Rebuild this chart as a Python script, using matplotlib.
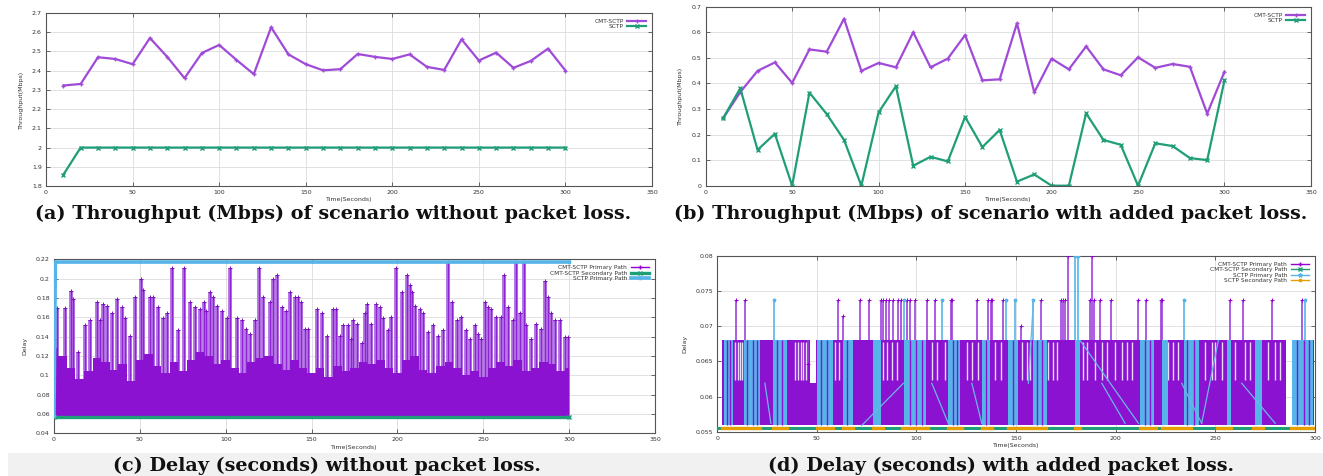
import matplotlib
matplotlib.use("Agg")
import matplotlib.pyplot as plt
from matplotlib.patches import Rectangle

# ---- (a) throughput, no packet loss ----
time_a = [10, 20, 30, 40, 50, 60, 70, 80, 90, 100, 110, 120, 130, 140, 150,
          160, 170, 180, 190, 200, 210, 220, 230, 240, 250, 260, 270, 280, 290, 300]
cmt_a = [2.323, 2.331, 2.470, 2.461, 2.434, 2.570, 2.472, 2.361, 2.492, 2.534,
         2.456, 2.382, 2.626, 2.485, 2.434, 2.402, 2.408, 2.487, 2.472, 2.461,
         2.485, 2.420, 2.404, 2.563, 2.453, 2.494, 2.415, 2.451, 2.515, 2.401]
sctp_a = [1.859, 2.0, 2.0, 2.0, 2.0, 2.0, 2.0, 2.0, 2.0, 2.0, 2.0, 2.0, 2.0, 2.0, 2.0,
          2.0, 2.0, 2.0, 2.0, 2.0, 2.0, 2.0, 2.0, 2.0, 2.0, 2.0, 2.0, 2.0, 2.0, 2.0]

# ---- (b) throughput, added packet loss ----
time_b = time_a
cmt_b = [0.263, 0.366, 0.449, 0.482, 0.402, 0.533, 0.524, 0.653, 0.449, 0.480,
         0.463, 0.600, 0.463, 0.497, 0.589, 0.412, 0.416, 0.635, 0.365, 0.497,
         0.455, 0.545, 0.455, 0.432, 0.502, 0.461, 0.476, 0.465, 0.282, 0.446]
sctp_b = [0.263, 0.381, 0.140, 0.203, 0.0, 0.364, 0.280, 0.179, 0.0, 0.287,
          0.389, 0.078, 0.113, 0.095, 0.269, 0.151, 0.218, 0.016, 0.044, 0.0,
          0.0, 0.283, 0.179, 0.160, 0.0, 0.166, 0.155, 0.108, 0.100, 0.412]

# ---- (c) delay, no packet loss ----
spike_t_c = [1.6, 6.4, 9.7, 11.3, 14.2, 17.8, 21.0, 24.8, 26.8, 28.7, 30.6, 33.6, 36.5,
             39.4, 41.3, 44.2, 47.1, 50.4, 52.0, 55.9, 57.8, 60.7, 63.6, 65.6, 68.5,
             72.4, 75.8, 79.1, 82.1, 85.0, 87.3, 88.8, 90.8, 92.7, 94.7, 97.6, 100.5,
             102.4, 106.3, 109.2, 112.1, 114.1, 117.0, 119.5, 121.8, 125.7, 127.3,
             129.6, 132.5, 135.4, 137.3, 140.3, 142.2, 144.1, 146.1, 148.0, 152.9,
             155.8, 158.7, 162.6, 164.5, 166.4, 168.4, 171.3, 173.2, 174.2, 176.2,
             179.1, 181.0, 182.0, 184.9, 187.8, 189.8, 191.7, 194.6, 196.5, 199.1,
             202.4, 205.3, 207.2, 208.2, 210.1, 213.0, 215.0, 217.9, 220.8, 223.7,
             226.6, 229.5, 231.5, 234.4, 237.3, 240.2, 242.1, 245.0, 247.0, 248.9,
             250.9, 252.8, 254.7, 257.6, 260.6, 261.9, 264.4, 267.4, 269.3, 271.2,
             273.6, 275.1, 278.0, 280.9, 283.8, 285.8, 287.7, 289.7, 291.6, 294.5,
             297.4, 299.4]
spike_d_c = [0.170, 0.170, 0.187, 0.179, 0.124, 0.152, 0.157, 0.176, 0.157, 0.174, 0.172,
             0.164, 0.179, 0.171, 0.159, 0.141, 0.181, 0.200, 0.188, 0.181, 0.181, 0.171,
             0.159, 0.164, 0.211, 0.147, 0.211, 0.176, 0.171, 0.169, 0.176, 0.167, 0.186,
             0.181, 0.172, 0.167, 0.159, 0.211, 0.159, 0.157, 0.148, 0.143, 0.157, 0.211,
             0.181, 0.176, 0.200, 0.204, 0.171, 0.167, 0.186, 0.181, 0.181, 0.176, 0.148,
             0.148, 0.169, 0.164, 0.141, 0.169, 0.169, 0.141, 0.152, 0.152, 0.138, 0.157,
             0.153, 0.133, 0.164, 0.174, 0.153, 0.174, 0.171, 0.159, 0.147, 0.160, 0.211,
             0.186, 0.204, 0.193, 0.186, 0.172, 0.169, 0.164, 0.145, 0.152, 0.141, 0.147,
             0.217, 0.176, 0.157, 0.160, 0.147, 0.138, 0.152, 0.143, 0.138, 0.176, 0.171,
             0.169, 0.160, 0.160, 0.204, 0.171, 0.157, 0.217, 0.164, 0.217, 0.152, 0.138,
             0.153, 0.148, 0.198, 0.181, 0.164, 0.157, 0.157, 0.140, 0.140]
# level below which the packet trace looks solid
dense_t_c = [0, 5, 10, 15, 20, 25, 30, 35, 40, 45, 50, 55, 60, 65, 70, 75, 80, 85, 90,
             95, 100, 105, 110, 115, 120, 125, 130, 135, 140, 145, 150, 155, 160, 165,
             170, 175, 180, 185, 190, 195, 200, 205, 210, 215, 220, 225, 230, 235, 240,
             245, 250, 255, 260, 265, 270, 275, 280, 285, 290, 295, 300]
dense_d_c = [0.128, 0.120, 0.108, 0.096, 0.104, 0.118, 0.114, 0.106, 0.112, 0.094,
             0.116, 0.122, 0.110, 0.102, 0.114, 0.104, 0.116, 0.124, 0.120, 0.112,
             0.116, 0.108, 0.102, 0.114, 0.118, 0.120, 0.112, 0.106, 0.116, 0.108,
             0.102, 0.108, 0.098, 0.110, 0.104, 0.108, 0.114, 0.112, 0.116, 0.108,
             0.102, 0.116, 0.120, 0.106, 0.102, 0.110, 0.114, 0.108, 0.100, 0.104,
             0.098, 0.108, 0.114, 0.110, 0.116, 0.104, 0.108, 0.114, 0.112, 0.104, 0.108]
floor_c = 0.0582
secondary_t_c = [0, 300]
secondary_d_c = [0.0567, 0.0567]
sctp_t_c = [0, 0.8, 300]
sctp_d_c = [0.0575, 0.2172, 0.2172]

# ---- (d) delay, added packet loss ----
floor_d = 0.0559
mid_d = 0.0619
top_d = 0.0680
cmt_blocks_d = [(2.5, 46.5), (46.5, 49.5), (49.5, 285.3), (288.3, 299.5)]
cmt_block_top_d = [top_d, mid_d, top_d, top_d]
sctp_blocks_d = [(3.6, 8.2), (13.5, 21.6), (28, 35), (50, 58), (63, 68), (78, 82),
                 (94, 105), (116, 122), (133, 137), (146, 151), (158.7, 165.4),
                 (179.6, 182), (212, 219), (223, 226), (234, 242), (255.7, 258),
                 (270, 273.5), (288.3, 299)]
streak_t_d = [9.0, 10.4, 11.5, 12.7, 39.1, 40.8, 42.1, 43.3, 44.5, 59.2, 61.2, 83.4,
              85.1, 87.6, 90.1, 107.7, 110.2, 114.4, 125.3, 127.8, 131.1, 139.5, 142.5,
              152.8, 155.4, 157.0, 166.2, 168.7, 170.4, 183.8, 185.5, 189.6, 193.3,
              195.5, 199.7, 203.0, 205.5, 208.0, 226.4, 228.9, 231.4, 244.8, 248.2,
              249.8, 253.2, 259.9, 264.9, 267.4, 276.6, 279.9, 282.4]
# purple packets crossing the SCTP blocks
cross_t_d = [5.0, 6.6, 15.2, 17.9, 19.8, 30.1, 32.6, 52.2, 55.0, 65.1, 97.0, 99.8,
             102.6, 118.5, 120.4, 135.0, 148.3, 160.4, 163.1, 214.5, 217.0, 236.0,
             239.2, 291.0, 294.2, 296.8]
cmt_spike_t_d = [9.4, 14.1, 45.8, 60.9, 63.0, 71.7, 76.3, 82.1, 83.4, 84.8, 86.3, 88.5,
                 90.6, 92.3, 95.2, 96.8, 99.3, 105.5, 109.4, 117.4, 118.1, 130.3, 136.1,
                 137.3, 138.1, 143.6, 152.5, 162.5, 172.6, 173.7, 174.6, 176.3, 187.1,
                 188.3, 189.1, 192.1, 197.5, 211.4, 215.1, 222.6, 223.4, 257.4, 263.7,
                 278.3, 293.6]
cmt_spike_d_d = [0.0737, 0.0737, 0.0647, 0.0737, 0.0715, 0.0737, 0.0737, 0.0737, 0.0737,
                 0.0737, 0.0737, 0.0737, 0.0737, 0.0737, 0.0737, 0.0737, 0.0737, 0.0737,
                 0.0737, 0.0737, 0.0737, 0.0737, 0.0737, 0.0737, 0.0737, 0.0737, 0.0700,
                 0.0737, 0.0737, 0.0737, 0.0737, 0.0800, 0.0737, 0.0800, 0.0737, 0.0737,
                 0.0737, 0.0737, 0.0737, 0.0737, 0.0737, 0.0737, 0.0737, 0.0737, 0.0737]
sctp_spike_t_d = [28.8, 94.0, 112.7, 144.8, 149.5, 158.7, 179.6, 181.3, 234.0, 295.0]
sctp_spike_d_d = [0.0737, 0.0737, 0.0737, 0.0737, 0.0737, 0.0737, 0.0800, 0.0800,
                  0.0737, 0.0737]
# diagonal jumps of the SCTP primary path: (t0, d0, t1, d1)
sctp_jumps_d = [(24, 0.0619, 27, 0.0562), (72.6, 0.0559, 93.5, 0.0619),
                (107.7, 0.0619, 116, 0.0562), (127.8, 0.0619, 132.8, 0.0562),
                (156.2, 0.0619, 158.7, 0.0737), (182.1, 0.0680, 211.4, 0.0562),
                (193, 0.0619, 204.7, 0.0562), (233.1, 0.0619, 243.1, 0.0562),
                (243.1, 0.0562, 251.5, 0.0680), (263.2, 0.0619, 280, 0.0562)]
secondary_t_d = [0, 300]
secondary_d_d = [0.0556, 0.0556]
sctp_sec_blocks_d = [(2.5, 21.5), (28, 35), (50, 58), (63, 68), (78, 83), (93, 106),
                     (116, 123), (133, 138), (146, 165), (179.5, 182), (212, 220),
                     (223, 238), (251, 258), (269, 274), (288, 299.5)]

PURPLE = '#9400d3'
LPURPLE = '#a04ad8'
GREEN = '#1f9e78'
BLUE = '#56b4e9'
ORANGE = '#e69f00'

plt.rcParams['font.family'] = ['DejaVu Sans']
fig = plt.figure(figsize=(13.23, 4.76), dpi=100)
fig.patches.append(Rectangle((0.006, 0.0), 0.994, 0.048, transform=fig.transFigure,
                             facecolor='#f1f1f1', edgecolor='none', zorder=0))

ax_a = fig.add_axes([0.0348, 0.6092, 0.458, 0.3634])
ax_b = fig.add_axes([0.5334, 0.6099, 0.4575, 0.3760])
ax_c = fig.add_axes([0.0408, 0.0897, 0.4543, 0.3655])
ax_d = fig.add_axes([0.5420, 0.0930, 0.4520, 0.3691])


def gnuplot_style(ax, ylabel):
    ax.grid(True, color='#dcdcdc', linewidth=0.6)
    ax.set_axisbelow(True)
    ax.tick_params(direction='in', top=True, right=True, length=3, width=0.5,
                   labelsize=4.5, pad=3, colors='#333333')
    for s in ax.spines.values():
        s.set_linewidth(0.8)
        s.set_color('#555555')
    ax.set_xlabel('Time(Seconds)', fontsize=4.5, labelpad=1.5, color='#333333')
    ax.set_ylabel(ylabel, fontsize=4.5, labelpad=6, color='#333333')


def gnuplot_legend(ax):
    leg = ax.legend(loc='upper right', fontsize=4.2, frameon=False, markerfirst=False,
                    handlelength=3.2, handletextpad=0.6, labelspacing=0.05,
                    borderaxespad=0.6)
    for t in leg.get_texts():
        t.set_color('#333333')


# 1. throughput panels
ax_a.plot(time_a, cmt_a, color=LPURPLE, lw=1.6, marker='+', ms=3, mew=1.0, label='CMT-SCTP')
ax_a.plot(time_a, sctp_a, color=GREEN, lw=1.6, marker='x', ms=2.5, mew=1.0, label='SCTP')
ax_a.set_xlim(0, 350)
ax_a.set_ylim(1.8, 2.7)
ax_a.set_xticks(range(0, 351, 50))
ax_a.set_yticks([1.8, 1.9, 2.0, 2.1, 2.2, 2.3, 2.4, 2.5, 2.6, 2.7])
ax_a.set_yticklabels(['1.8', '1.9', '2', '2.1', '2.2', '2.3', '2.4', '2.5', '2.6', '2.7'])
gnuplot_style(ax_a, 'Throughput(Mbps)')
gnuplot_legend(ax_a)

ax_b.plot(time_b, cmt_b, color=LPURPLE, lw=1.6, marker='+', ms=3, mew=1.0, label='CMT-SCTP')
ax_b.plot(time_b, sctp_b, color=GREEN, lw=1.6, marker='x', ms=2.5, mew=1.0, label='SCTP')
ax_b.set_xlim(0, 350)
ax_b.set_ylim(0, 0.7)
ax_b.set_xticks(range(0, 351, 50))
ax_b.set_yticks([0, 0.1, 0.2, 0.3, 0.4, 0.5, 0.6, 0.7])
ax_b.set_yticklabels(['0', '0.1', '0.2', '0.3', '0.4', '0.5', '0.6', '0.7'])
gnuplot_style(ax_b, 'Throughput(Mbps)')
gnuplot_legend(ax_b)

# 2. delay without loss
ax_c.vlines(spike_t_c, floor_c, spike_d_c, color='#b77ce6', lw=2.9, zorder=2)
ax_c.vlines(spike_t_c, floor_c, spike_d_c, color='#8f24d4', lw=1.0, zorder=3)
ax_c.fill_between(dense_t_c, floor_c, dense_d_c, step='mid', color='#8a12d0', lw=0,
                  zorder=3)
ax_c.plot(spike_t_c, spike_d_c, ls='none', marker='+', ms=2.5, mew=0.7,
          color='#7d10c0', zorder=4)
ax_c.plot([], [], color=PURPLE, lw=1, marker='+', ms=3, label='CMT-SCTP Primary Path')
ax_c.plot(secondary_t_c, secondary_d_c, color=GREEN, lw=2.4, marker='x', ms=2.5,
          zorder=5, label='CMT-SCTP Secondary Path')
ax_c.plot(sctp_t_c, sctp_d_c, color=BLUE, lw=2.6, marker='*', ms=2.5, zorder=5,
          label='SCTP Primary Path')
ax_c.set_xlim(0, 350)
ax_c.set_ylim(0.04, 0.22)
ax_c.set_xticks(range(0, 351, 50))
ax_c.set_yticks([0.04, 0.06, 0.08, 0.1, 0.12, 0.14, 0.16, 0.18, 0.2, 0.22])
ax_c.set_yticklabels(['0.04', '0.06', '0.08', '0.1', '0.12', '0.14', '0.16', '0.18',
                      '0.2', '0.22'])
gnuplot_style(ax_c, 'Delay')
gnuplot_legend(ax_c)

# 3. delay with loss
for (t0, t1), top in zip(cmt_blocks_d, cmt_block_top_d):
    ax_d.bar(t0, top - floor_d, width=t1 - t0, bottom=floor_d, align='edge',
             color='#8a12d0', lw=0, zorder=2)
ax_d.vlines(streak_t_d, mid_d + 0.0004, top_d - 0.0003, color='#eadcf6', lw=1.0, zorder=2)
for t0, t1 in sctp_blocks_d:
    ax_d.bar(t0, top_d - floor_d, width=t1 - t0, bottom=floor_d, align='edge',
             color=BLUE, lw=0, zorder=3)
ax_d.vlines(cross_t_d, floor_d, top_d, color='#8a12d0', lw=1.0, zorder=3)
ax_d.vlines(cmt_spike_t_d, top_d, cmt_spike_d_d, color='#a040dc', lw=1.2, zorder=4)
ax_d.plot(cmt_spike_t_d, cmt_spike_d_d, ls='none', marker='+', ms=2.5, mew=0.7,
          color=PURPLE, zorder=4)
ax_d.vlines(sctp_spike_t_d, top_d, sctp_spike_d_d, color=BLUE, lw=1.2, zorder=4)
ax_d.plot(sctp_spike_t_d, sctp_spike_d_d, ls='none', marker='*', ms=2.5,
          color=BLUE, zorder=4)
for t0, d0, t1, d1 in sctp_jumps_d:
    ax_d.plot([t0, t1], [d0, d1], color='#6ab8ea', lw=0.9, zorder=4)
ax_d.plot(secondary_t_d, secondary_d_d, color=GREEN, lw=2.2, zorder=5)
for t0, t1 in sctp_sec_blocks_d:
    ax_d.plot([t0, t1], [secondary_d_d[0], secondary_d_d[0]], color=ORANGE, lw=2.4,
              zorder=6)
ax_d.plot([], [], color=PURPLE, lw=1, marker='+', ms=3, label='CMT-SCTP Primary Path')
ax_d.plot([], [], color=GREEN, lw=1, marker='x', ms=3, label='CMT-SCTP Secondary Path')
ax_d.plot([], [], color=BLUE, lw=1, marker='*', ms=3, label='SCTP Primary Path')
ax_d.plot([], [], color=ORANGE, lw=1, marker='s', ms=2, label='SCTP Secondary Path')
ax_d.set_xlim(0, 300)
ax_d.set_ylim(0.055, 0.08)
ax_d.set_xticks(range(0, 301, 50))
ax_d.set_yticks([0.055, 0.06, 0.065, 0.07, 0.075, 0.08])
ax_d.set_yticklabels(['0.055', '0.06', '0.065', '0.07', '0.075', '0.08'])
gnuplot_style(ax_d, 'Delay')
gnuplot_legend(ax_d)

# 4. captions
cap = dict(family='DejaVu Serif', fontweight='bold', fontsize=13.8, ha='center',
           va='center', color='#111111')
fig.text(333 / 1323, 1 - 214 / 476, '(a) Throughput (Mbps) of scenario without packet loss.', **cap)
fig.text(991 / 1323, 1 - 214 / 476, '(b) Throughput (Mbps) of scenario with added packet loss.', **cap)
fig.text(327 / 1323, 1 - 466 / 476, '(c) Delay (seconds) without packet loss.', **cap)
fig.text(1001 / 1323, 1 - 466 / 476, '(d) Delay (seconds) with added packet loss.', **cap)

fig.savefig('out.png', dpi=100)
